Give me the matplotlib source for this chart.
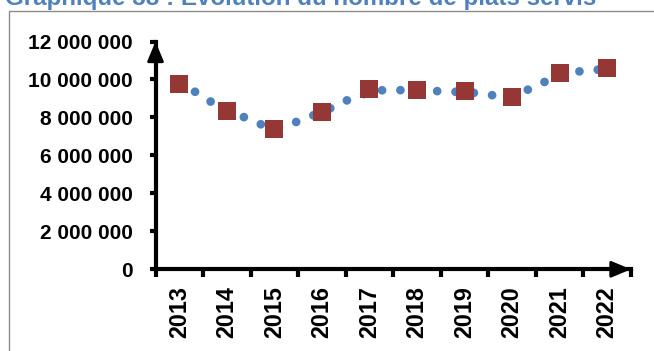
import numpy as np
import matplotlib.pyplot as plt
from matplotlib.patches import Rectangle
from matplotlib.ticker import FuncFormatter, FixedLocator

years = ['2013', '2014', '2015', '2016', '2017', '2018', '2019', '2020', '2021', '2022']
plats = [9750000, 8330000, 7390000, 8290000, 9490000, 9430000, 9370000, 9060000, 10330000, 10590000]

# courbe de tendance (positions en rang d'annee, valeurs lues)
trend_pos = [0, 0.38, 0.70, 1.0, 1.41, 1.78, 2.16, 2.52, 2.88, 3.25, 3.60, 4.0, 4.34,
             4.73, 5.1, 5.51, 5.9, 6.30, 6.69, 7.05, 7.42, 7.78, 8.16, 8.52, 9.0]
trend_val = [9850000, 9280000, 8770000, 8420000, 7960000, 7570000, 7470000, 7820000,
             8170000, 8560000, 8990000, 9320000, 9460000, 9430000, 9410000, 9380000,
             9340000, 9280000, 9130000, 9190000, 9550000, 9990000, 10340000, 10460000, 10550000]

title = "Graphique 38 : Evolution du nombre de plats servis"
blue = '#4F81BD'
red = '#953735'

fig = plt.figure(figsize=(6.54, 3.51), dpi=100)
fig.patch.set_facecolor('white')

# cadre gris du graphique
fig.patches.append(Rectangle((8.5 / 654, -0.1), 1.0, 1 - 11 / 351 + 0.1, transform=fig.transFigure,
                             fill=False, edgecolor='#8c8c8c', lw=1.0))
fig.text(5 / 654, 1 - 5 / 351, title, ha='left', va='baseline', fontsize=17.4,
         fontweight='bold', color=blue, family='Liberation Sans')

ax = fig.add_axes([155.5 / 654, 81.7 / 351, (631 - 155.5) / 654, 227.8 / 351])
x = np.arange(len(years))

ax.plot(trend_pos, trend_val, color=blue, lw=6.3, linestyle=(0, (0.001, 2.1)),
        dash_capstyle='round', solid_capstyle='round', zorder=2, clip_on=False)
ax.plot(x, plats, linestyle='none', marker='s', ms=13.4, mew=0, color=red, zorder=3, clip_on=False)

ax.set_xlim(-0.5, len(years) - 0.5)
ax.set_ylim(0, 12000000)

for s in ['top', 'right']:
    ax.spines[s].set_visible(False)
for s in ['left', 'bottom']:
    ax.spines[s].set_linewidth(3)
    ax.spines[s].set_color('black')

ax.set_yticks(np.arange(0, 12000001, 2000000))
ax.yaxis.set_major_formatter(FuncFormatter(lambda v, p: f"{int(v):,}".replace(",", " ")))
ax.tick_params(axis='y', direction='out', length=4.5, width=3, pad=12, labelsize=15)

ax.set_xticks(x)
ax.set_xticklabels(years, rotation=90)
ax.xaxis.set_minor_locator(FixedLocator(np.arange(-0.5, len(years), 1.0)))
ax.tick_params(axis='x', which='major', length=0, pad=12, labelsize=16.8)
ax.tick_params(axis='x', which='minor', direction='out', length=6, width=3)

for lab in ax.get_xticklabels() + ax.get_yticklabels():
    lab.set_fontweight('bold')
    lab.set_family('Liberation Sans')

# fleches au bout des axes
arrow = dict(arrowstyle='-|>,head_length=1.2,head_width=0.5', color='black', lw=2,
             mutation_scale=10, shrinkA=0, shrinkB=0)
ax.annotate('', xy=(0, 1), xytext=(0, 0.9), xycoords='axes fraction', arrowprops=arrow)
ax.annotate('', xy=(1, 0), xytext=(0.95, 0), xycoords='axes fraction', arrowprops=arrow)

fig.savefig('out.png', dpi=100)
